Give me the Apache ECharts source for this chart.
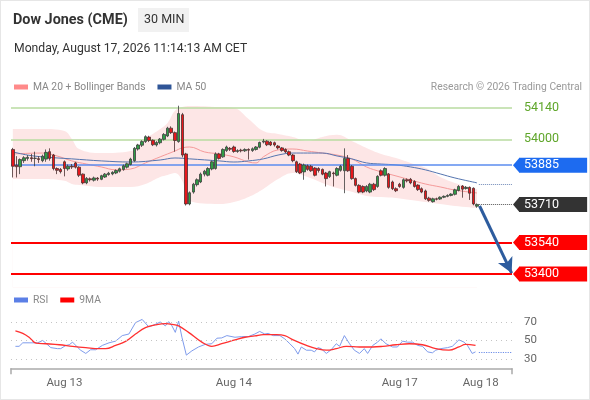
<!DOCTYPE html>
<html>
<head>
<meta charset="utf-8">
<script src="https://cdn.jsdelivr.net/npm/echarts@6/dist/echarts.min.js"></script>
<style>
html,body{margin:0;padding:0;background:#fff;}
#c{width:590px;height:400px;box-sizing:border-box;border:1px solid #e6e6e6;}
</style>
</head>
<body>
<div id="c"></div>
<script>
// ---------- DATA ----------
const candleOpen  = [53955,53885,53878,53905,53915,53918,53915,53914,53905,53912,53945,53930,53870,53866,53900,53868,53880,53895,53876,53845,53806,53824,53818,53827,53822,53832,53843,53846,53850,53858,53866,53876,53888,53905,53957,53974,53990,54010,53996,53975,53985,54000,54015,54050,54030,53990,54110,53935,53712,53765,53798,53810,53845,53840,53868,53870,53935,53922,53950,53960,53966,53946,53952,53949,53955,53950,53955,53965,53988,53992,53988,53985,53970,53962,53955,53945,53930,53900,53890,53855,53882,53880,53872,53870,53866,53850,53834,53850,53840,53862,53860,53915,53880,53825,53795,53790,53770,53765,53800,53790,53860,53840,53845,53810,53780,53800,53786,53820,53822,53812,53796,53780,53770,53738,53722,53735,53734,53742,53746,53750,53755,53772,53792,53781,53786,53782,53702];
const candleClose = [53880,53878,53910,53918,53920,53914,53916,53910,53925,53942,53915,53870,53862,53856,53870,53880,53877,53876,53840,53806,53826,53820,53828,53823,53838,53845,53849,53853,53861,53869,53882,53891,53912,53960,53975,53990,54012,53995,53976,53986,54001,54022,54050,54030,53995,54115,53930,53712,53762,53800,53820,53845,53858,53870,53900,53935,53915,53955,53966,53956,53946,53950,53949,53955,53952,53958,53966,53986,53992,53976,53975,53975,53962,53950,53944,53930,53905,53856,53850,53886,53866,53860,53840,53861,53845,53825,53856,53847,53870,53880,53915,53860,53825,53795,53765,53765,53790,53800,53776,53835,53840,53870,53786,53780,53771,53790,53820,53815,53806,53790,53776,53765,53735,53728,53735,53733,53742,53746,53750,53756,53775,53790,53778,53786,53760,53712,53710];
const candleLow   = [53830,53830,53845,53895,53905,53900,53880,53895,53898,53900,53905,53862,53845,53848,53835,53860,53868,53870,53832,53800,53800,53812,53812,53815,53818,53828,53838,53840,53845,53852,53860,53870,53884,53900,53950,53966,53984,53988,53970,53968,53978,53995,54010,54024,53945,53985,53920,53705,53706,53758,53790,53805,53835,53835,53862,53865,53910,53918,53944,53948,53940,53940,53942,53944,53910,53944,53950,53960,53982,53970,53970,53968,53955,53945,53938,53925,53898,53850,53845,53820,53860,53855,53835,53852,53840,53790,53828,53790,53835,53856,53760,53855,53820,53790,53760,53760,53764,53760,53770,53784,53835,53834,53780,53774,53765,53784,53780,53808,53800,53785,53770,53760,53730,53722,53718,53728,53730,53738,53742,53746,53750,53768,53740,53776,53730,53706,53695];
const candleHigh  = [53962,53925,53915,53925,53930,53935,53945,53925,53932,53955,53960,53935,53875,53872,53906,53888,53890,53900,53880,53848,53832,53830,53834,53832,53842,53850,53855,53858,53866,53874,53888,53896,53918,53966,53980,53996,54018,54016,54000,53992,54006,54028,54056,54058,54035,54150,54118,53940,53768,53806,53826,53852,53864,53876,53906,53942,53940,53960,53972,53966,53972,53956,53958,53960,53960,53964,53970,53990,54002,53996,53992,53990,53975,53966,53960,53950,53935,53905,53895,53892,53888,53886,53876,53876,53870,53855,53860,53856,53876,53886,53960,53930,53885,53830,53800,53795,53796,53806,53806,53840,53866,53876,53850,53816,53786,53806,53826,53826,53828,53818,53800,53786,53776,53744,53740,53740,53746,53750,53755,53760,53780,53796,53796,53792,53790,53786,53714];

const bandIdx   = [0,8,14,16,18,24,32,36,40,42,44,46,48,56,60,64,68,72,76,80,84,88,92,96,100,104,108,112,116,120,126];
const bandUpper = [54046,54046,54037,54002,53957,53939,53948,54002,54046,54073,54127,54144,54149,54144,54140,54091,54037,54024,54011,53993,54011,54020,53993,53962,53935,53917,53895,53873,53832,53806,53779];
const bandLower = [53823,53823,53815,53801,53797,53788,53788,53801,53832,53841,53850,53815,53725,53712,53721,53743,53779,53823,53850,53832,53806,53783,53766,53748,53743,53739,53730,53721,53712,53703,53694];

const ma20Idx = [0,8,12,16,20,24,28,32,36,40,44,46,48,52,56,60,64,66,68,72,76,80,84,88,92,96,100,104,108,112,116,120,126];
const ma20Val = [53935,53939,53926,53904,53890,53877,53864,53868,53895,53922,53948,53962,53966,53944,53935,53922,53899,53895,53922,53953,53957,53948,53939,53930,53913,53877,53855,53837,53819,53801,53788,53774,53761];

const ma50Idx = [0,4,8,16,24,32,40,44,48,56,60,64,68,72,76,80,84,88,92,96,100,104,108,112,116,120,126];
const ma50Val = [53944,53930,53922,53913,53904,53899,53908,53917,53913,53904,53899,53904,53913,53930,53939,53939,53939,53926,53913,53895,53890,53886,53877,53864,53846,53828,53806];

const rsiIdx = [0.7,1.7,2.7,4.4,6.7,8.1,9,10.3,12.1,13,14.4,15.3,16.2,17.5,18.4,19.8,21.1,22.5,24.3,26.1,27.9,29.7,31.5,33.3,35.1,36.9,38.7,40,41.4,42.3,43.2,44.1,45,45.9,47.1,48.6,50.4,52.2,54,55.4,56.7,58.1,60.3,62.1,63.9,65.7,67,68.4,69.3,70.7,72.5,73.8,75.2,76.5,77.4,78.3,79.7,81,81.9,82.8,83.7,85.1,86.4,87.8,88.7,90,91.4,92.7,94.1,95.4,96.3,97.7,99,99.9,101.3,103.1,104.4,105.8,107.1,108.5,109.9,111.2,112.6,113.9,114.8,116.2,118,119.3,121.1,122.5,123.4,123.8,124.7,125.6];
const rsiVal = [43.7,43.7,47.5,47.5,47.5,50,47,42.3,41.2,41.2,44.7,45.4,48.2,43,39.5,36,40,40,44.7,47.5,49.3,55.3,57,69.3,72.8,64.7,67.5,70,65.8,70.4,65.8,58.8,71,53.5,34.2,38.8,43,45.8,46.5,52.5,52.8,55.3,53.5,54.2,54.2,57,59.8,57,57.7,55.3,55.3,51.8,46.5,41.2,35.3,43,39.5,39.5,37.7,42.3,41.2,36,40,46.5,43.7,55.3,46.5,39.5,36,41.2,36,44.7,48.2,51.8,46.5,43,43,49.3,48.2,48.2,44.7,43.7,37.7,36.7,39.5,41.2,42.3,43.7,50.7,48.2,44.7,46.5,36,37.7];

const rsiMaIdx = [0.7,2.7,4.4,6.3,9,12.6,16.2,19.8,23.4,25.2,27.9,30.6,33.3,36,38.7,41.4,43.2,45,47.7,51.3,54,56.7,60.3,63,65.7,68,71.6,73.8,76.1,79.7,82.4,85.1,87.8,90.5,94.1,97.7,100.4,104,107.6,111.2,114.8,118.4,121.1,122.9,125.6];
const rsiMaVal = [60.5,57.7,53.5,47.2,46.5,45.4,43.7,42.3,41.2,41.2,44.7,49,57,64,66.8,68.2,67.5,65.8,58.8,48.2,43.7,46.5,50.7,53.5,54.9,56.3,56.3,55.3,50.7,44.7,41.2,39.5,41.2,43.7,43,43,43.7,45.4,46.5,45.4,41.2,39.5,43,45.8,44.7];

const resistLevels = [54140, 54000];
const pivotLevel = 53885;
const currentPrice = 53710;
const supportLevels = [53540, 53400];
const arrowTarget = 53410;
const ma50Projection = 53801;
const rsiProjection = 37.7;
const rsiTicks = [30, 50, 70];
const dateLabelIdx = [14, 60, 105, 127];
const dateLabels = ['Aug 13', 'Aug 14', 'Aug 17', 'Aug 18'];
const totalSlots = 136;

// ---------- BUILD ----------
const FONT = 'Roboto, "Liberation Sans", Arial, sans-serif';
const cats = Array.from({length: totalSlots}, (_, i) => String(i));
const candles = candleOpen.map((o, i) => [o, candleClose[i], candleLow[i], candleHigh[i]]);
const pairs = (xs, ys) => xs.map((x, i) => [x, ys[i]]);
const lastIdx = candleOpen.length - 1;
const xEnd = totalSlots - 0.5;
const projStart = lastIdx + 0.5;

function tagLabel(bg, text) {
  return {show: true, position: 'end', distance: 7, formatter: String(text), color: '#fff',
    backgroundColor: bg, padding: [2, 28, 1, 5], fontSize: 12.5, fontFamily: FONT, lineHeight: 12};
}
function tri(value, color) {
  return {coord: [xEnd, value], symbol: 'triangle', symbolRotate: 90, symbolSize: [14, 6],
    symbolOffset: [4, 0], itemStyle: {color: color}, label: {show: false}};
}

const levelLines = [];
resistLevels.forEach(v => levelLines.push({yAxis: v, lineStyle: {color: '#b9dba0', width: 1.5, type: 'solid'},
  label: {show: true, position: 'end', distance: 12, formatter: String(v), color: '#5fa62a', fontSize: 12.5, fontFamily: FONT}}));
levelLines.push({yAxis: pivotLevel, lineStyle: {color: '#5b8def', width: 1.5, type: 'solid'}, label: tagLabel('#1d6bf0', pivotLevel)});
supportLevels.forEach(v => levelLines.push({yAxis: v, lineStyle: {color: '#ff0000', width: 2, type: 'solid'}, label: tagLabel('#ff0000', v)}));
levelLines.push([{coord: [projStart, currentPrice], lineStyle: {color: '#555', width: 1, type: 'dotted'}, label: tagLabel('#333333', currentPrice)},
                 {coord: [xEnd, currentPrice]}]);
levelLines.push([{coord: [projStart, ma50Projection], lineStyle: {color: '#7089b8', width: 1, type: 'dotted'}, label: {show: false}},
                 {coord: [xEnd, ma50Projection]}]);

const chart = echarts.init(document.getElementById('c'), null, {renderer: 'canvas'});
chart.setOption({
  animation: false,
  backgroundColor: '#fff',
  textStyle: {fontFamily: FONT},
  graphic: [
    {type: 'text', x: 12, y: 19, style: {text: 'Dow Jones (CME)', font: 'bold 14.4px ' + FONT, fill: '#333', textVerticalAlign: 'middle'}},
    {type: 'rect', shape: {x: 137, y: 7, width: 51, height: 24}, style: {fill: '#f1f1f1'}},
    {type: 'text', x: 143, y: 19, style: {text: '30 MIN', font: '12.5px ' + FONT, fill: '#333', textVerticalAlign: 'middle'}},
    {type: 'text', x: 13, y: 48, style: {text: 'Monday, August 17, 2026 11:14:13 AM CET', font: '12.2px ' + FONT, fill: '#333', textVerticalAlign: 'middle'}},
    {type: 'text', x: 581, y: 86, style: {text: 'Research \u00a9 2026 Trading Central', font: '10.3px ' + FONT, fill: '#999', textAlign: 'right', textVerticalAlign: 'middle'}}
  ],
  legend: [
    {data: ['MA 20 + Bollinger Bands', 'MA 50'], left: 8, top: 76, icon: 'rect', itemWidth: 14, itemHeight: 5, itemGap: 12,
      textStyle: {color: '#888', fontSize: 10.3, fontFamily: FONT}, selectedMode: false},
    {data: ['RSI', '9MA'], left: 8, top: 289, icon: 'rect', itemWidth: 14, itemHeight: 5, itemGap: 12,
      textStyle: {color: '#888', fontSize: 10.3, fontFamily: FONT}, selectedMode: false}
  ],
  grid: [
    {left: 10, right: 77, top: 93.5, height: 192.9},
    {left: 10, right: 77, top: 311.75, height: 55.5}
  ],
  xAxis: [
    {type: 'category', gridIndex: 0, data: cats, boundaryGap: true, show: false},
    {type: 'value', gridIndex: 0, min: -0.5, max: xEnd, show: false},
    {type: 'value', gridIndex: 1, min: -0.5, max: xEnd, splitLine: {show: false},
      axisLine: {show: true, lineStyle: {color: '#aaa', width: 1.5}},
      axisTick: {show: true, customValues: [-0.5, xEnd], length: 6, lineStyle: {color: '#aaa', width: 1.5}},
      axisLabel: {customValues: dateLabelIdx, formatter: v => dateLabels[dateLabelIdx.indexOf(v)] || '',
        color: '#666', fontSize: 11.5, margin: 9, fontFamily: FONT}}
  ],
  yAxis: [
    {type: 'value', gridIndex: 0, min: 53340, max: 54200, show: false},
    {type: 'value', gridIndex: 1, min: 20, max: 80, position: 'right', splitLine: {show: false},
      axisLine: {show: false}, axisTick: {show: false},
      axisLabel: {customValues: rsiTicks, color: '#666', fontSize: 11.5, margin: 12, fontFamily: FONT}}
  ],
  series: [
    {type: 'line', name: 'bbUpper', xAxisIndex: 1, yAxisIndex: 0, symbol: 'none', smooth: 0.4,
      data: pairs(bandIdx, bandUpper), lineStyle: {opacity: 0},
      areaStyle: {color: 'rgba(245,130,130,0.2)', opacity: 1, origin: 'start'}, silent: true, z: 1},
    {type: 'line', name: 'bbLower', xAxisIndex: 1, yAxisIndex: 0, symbol: 'none', smooth: 0.4,
      data: pairs(bandIdx, bandLower), lineStyle: {opacity: 0},
      areaStyle: {color: '#ffffff', opacity: 1, origin: 'start'}, silent: true, z: 2},
    {type: 'line', name: 'MA 20 + Bollinger Bands', xAxisIndex: 1, yAxisIndex: 0, symbol: 'none', smooth: 0.4,
      data: pairs(ma20Idx, ma20Val), color: '#ff8a8a', lineStyle: {color: '#f59a9a', width: 1}, silent: true, z: 3},
    {type: 'line', name: 'MA 50', xAxisIndex: 1, yAxisIndex: 0, symbol: 'none', smooth: 0.4,
      data: pairs(ma50Idx, ma50Val), color: '#2f5597', lineStyle: {color: '#5575b0', width: 1}, silent: true, z: 4,
      markLine: {silent: true, symbol: 'none', data: levelLines, animation: false},
      markPoint: {silent: true, data: [tri(pivotLevel, '#1d6bf0'), tri(currentPrice, '#333333'),
        tri(supportLevels[0], '#ff0000'), tri(supportLevels[1], '#ff0000')]}},
    {type: 'candlestick', name: 'price', xAxisIndex: 0, yAxisIndex: 0, data: candles, barWidth: 3, z: 5,
      itemStyle: {color: '#2f9c45', color0: '#e8161b', borderColor: '#3d3d3d', borderColor0: '#4a3030', borderWidth: 0.8}},
    {type: 'line', name: 'arrow', xAxisIndex: 1, yAxisIndex: 0, data: [], z: 6,
      markLine: {silent: true, symbol: ['none', 'arrow'], symbolSize: [12, 15],
        lineStyle: {color: '#2d5c9e', width: 3, type: 'solid'}, label: {show: false},
        data: [[{coord: [lastIdx + 0.7, currentPrice - 7]}, {coord: [xEnd - 0.1, arrowTarget - 6]}]]}},
    {type: 'line', name: 'RSI', xAxisIndex: 2, yAxisIndex: 1, symbol: 'none', data: pairs(rsiIdx, rsiVal),
      color: '#5b7fe6', lineStyle: {color: '#7f9cec', width: 1}, z: 3,
      markLine: {silent: true, symbol: 'none', label: {show: false},
        data: rsiTicks.map(v => ({yAxis: v, lineStyle: {color: '#c4c4c4', type: [1, 4], width: 1}})).concat([
          [{coord: [projStart, rsiProjection], lineStyle: {color: '#6d8ee8', type: 'dotted', width: 1.2}}, {coord: [xEnd, rsiProjection]}]])}},
    {type: 'line', name: '9MA', xAxisIndex: 2, yAxisIndex: 1, symbol: 'none', smooth: 0.4, data: pairs(rsiMaIdx, rsiMaVal),
      color: '#ff0000', lineStyle: {color: '#ff3030', width: 1.3}, z: 4}
  ]
});
</script>
</body>
</html>
